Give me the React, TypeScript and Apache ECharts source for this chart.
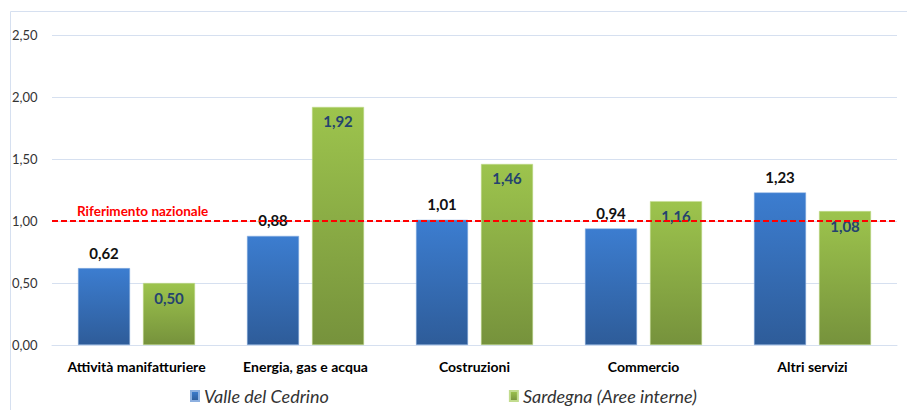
import React, { useEffect, useRef } from "react";
import * as echarts from "echarts";

const categories = [
  "Attività manifatturiere",
  "Energia, gas e acqua",
  "Costruzioni",
  "Commercio",
  "Altri servizi",
];
const valleDelCedrino = [0.62, 0.88, 1.01, 0.94, 1.23];
const sardegnaAreeInterne = [0.5, 1.92, 1.46, 1.16, 1.08];
const riferimentoNazionale = 1.0;
const seriesNames = ["Valle del Cedrino", "Sardegna (Aree interne)"];
const refLabel = "Riferimento nazionale";

const FONT = "Lato, 'Noto Sans', sans-serif";
const fmt = (v: number) => v.toFixed(2).replace(".", ",");

export default function App() {
  const ref = useRef<HTMLDivElement>(null);
  useEffect(() => {
    if (!ref.current) return;
    const chart = echarts.init(ref.current, undefined, { renderer: "svg" });
    const blueGrad = new echarts.graphic.LinearGradient(0, 0, 0, 1, [
      { offset: 0, color: "#3C7DD0" },
      { offset: 1, color: "#2E5C99" },
    ]);
    const greenGrad = new echarts.graphic.LinearGradient(0, 0, 0, 1, [
      { offset: 0, color: "#9DC44D" },
      { offset: 1, color: "#76923C" },
    ]);
    chart.setOption({
      animation: false,
      backgroundColor: "#ffffff",
      textStyle: { fontFamily: FONT },
      graphic: [
        {
          type: "rect",
          shape: { x: 10.5, y: 11.5, width: 1000, height: 500 },
          style: { fill: "none", stroke: "#D6E0F0", lineWidth: 1 },
          silent: true,
          z: -1,
        },
      ],
      grid: { left: 52, right: 10, top: 35, bottom: 65, containLabel: false },
      legend: {
        left: 190,
        top: 386,
        padding: 0,
        itemGap: 180,
        itemWidth: 8,
        itemHeight: 10,
        icon: "rect",
        textStyle: {
          fontFamily: FONT,
          fontSize: 18,
          lineHeight: 20,
          fontStyle: "italic",
          color: "#333",
        },
        data: seriesNames,
      },
      xAxis: {
        type: "category",
        data: categories,
        axisLine: { show: true, lineStyle: { color: "#D6E0F0", width: 1 } },
        axisTick: { show: false },
        axisLabel: {
          interval: 0,
          margin: 14,
          fontFamily: FONT,
          fontSize: 14,
          fontWeight: "bold",
          color: "#000",
        },
      },
      yAxis: {
        type: "value",
        min: 0,
        max: 2.5,
        interval: 0.5,
        axisLine: { show: false },
        axisTick: { show: false },
        splitLine: { lineStyle: { color: "#D6E0F0", width: 1 } },
        axisLabel: {
          formatter: (v: number) => fmt(v),
          align: "left",
          margin: 40,
          fontFamily: FONT,
          fontSize: 13,
          color: "#333",
        },
      },
      series: [
        {
          name: seriesNames[0],
          type: "bar",
          data: valleDelCedrino,
          barWidth: 52,
          barGap: "25%",
          itemStyle: {
            color: blueGrad,
            borderColor: "#8DB0E0",
            borderWidth: 0.5,
          },
          label: {
            show: true,
            position: "top",
            distance: 8,
            formatter: (p: any) => fmt(p.value),
            fontFamily: FONT,
            fontSize: 15,
            fontWeight: "bold",
            color: "#111",
          },
          markLine: {
            silent: true,
            symbol: ["none", "none"],
            z: 10,
            data: [{ yAxis: riferimentoNazionale }],
            lineStyle: {
              color: "#FF0000",
              type: [6, 3],
              width: 2,
            },
            label: {
              show: true,
              position: "insideStartTop",
              distance: [25, 3],
              formatter: refLabel,
              fontFamily: FONT,
              fontSize: 13.5,
              fontWeight: "bold",
              color: "#FF0000",
            },
          },
        },
        {
          name: seriesNames[1],
          type: "bar",
          data: sardegnaAreeInterne,
          barWidth: 52,
          itemStyle: {
            color: greenGrad,
            borderColor: "#C2DC8E",
            borderWidth: 0.5,
          },
          label: {
            show: true,
            position: "insideTop",
            distance: 7,
            formatter: (p: any) => fmt(p.value),
            fontFamily: FONT,
            fontSize: 15,
            fontWeight: "bold",
            color: "#24436F",
          },
        },
      ],
    });
    return () => chart.dispose();
  }, []);
  return (
    <div
      ref={ref}
      style={{ position: "fixed", left: 0, top: 0, width: 907, height: 410 }}
    />
  );
}
